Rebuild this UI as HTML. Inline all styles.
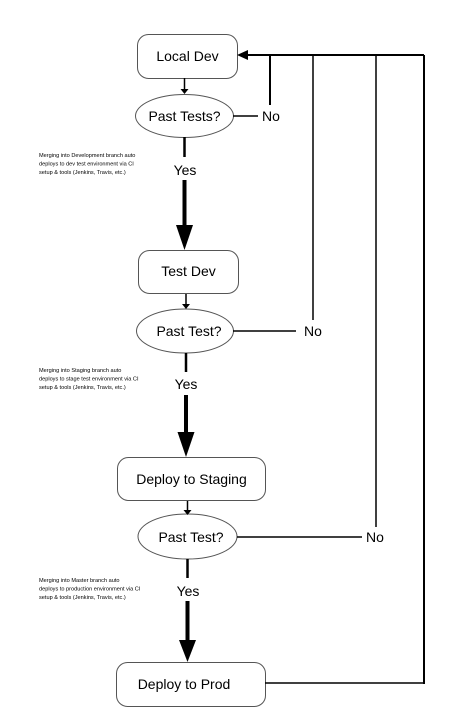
<!DOCTYPE html>
<html><head><meta charset="utf-8"><style>
html,body{margin:0;padding:0;background:#fff;}
svg{display:block;}
text{font-family:"Liberation Sans",Arial,sans-serif;fill:#000;}
.s{font-size:5.6px;}
.m{font-size:14px;}
</style></head><body>
<svg width="471" height="728" viewBox="0 0 471 728" xmlns="http://www.w3.org/2000/svg">
<g fill="#fff" stroke="#555" stroke-width="1">
<rect x="137.5" y="34.5" width="100" height="44" rx="11"/>
<ellipse cx="184.5" cy="116" rx="49" ry="21.5"/>
<rect x="138.5" y="250.5" width="100" height="43" rx="11"/>
<ellipse cx="185" cy="331" rx="48.5" ry="22"/>
<rect x="117.5" y="457.5" width="148" height="43" rx="11"/>
<ellipse cx="187.5" cy="536.5" rx="49.5" ry="22.5"/>
<rect x="116.5" y="662.5" width="149" height="44" rx="11"/>
</g>
<g stroke="#000" fill="none">
<!-- feedback lines -->
<line x1="247" y1="55" x2="424" y2="55" stroke-width="2"/>
<line x1="270" y1="55" x2="270" y2="105" stroke-width="2"/>
<line x1="313" y1="55" x2="313" y2="320" stroke-width="1.5"/>
<line x1="376" y1="55" x2="376" y2="527" stroke-width="1.5"/>
<line x1="424" y1="55" x2="424" y2="684" stroke-width="2"/>
<line x1="265" y1="683" x2="424" y2="683" stroke-width="1.5"/>
<line x1="233" y1="116" x2="258" y2="116" stroke-width="1.5"/>
<line x1="233" y1="331" x2="296" y2="331" stroke-width="1.5"/>
<line x1="237" y1="537" x2="362" y2="537" stroke-width="1.5"/>
<!-- small arrows -->
<line x1="184.5" y1="78" x2="184.5" y2="89" stroke-width="1.5"/>
<line x1="186" y1="294" x2="186" y2="304" stroke-width="1.5"/>
<line x1="187.5" y1="501" x2="187.5" y2="510" stroke-width="1.5"/>
<!-- yes thin -->
<line x1="184.5" y1="137" x2="184.5" y2="157" stroke-width="2.5"/>
<line x1="186" y1="353" x2="186" y2="372" stroke-width="2.5"/>
<line x1="187.5" y1="559" x2="187.5" y2="578" stroke-width="2.5"/>
<!-- yes thick -->
<line x1="184.5" y1="180" x2="184.5" y2="228" stroke-width="4"/>
<line x1="186" y1="395" x2="186" y2="435" stroke-width="4"/>
<line x1="187.5" y1="601" x2="187.5" y2="643" stroke-width="4"/>
</g>
<g fill="#000">
<polygon points="237,55 248,50 248,60"/>
<polygon points="180.5,89 188.5,89 184.5,94"/>
<polygon points="182,304 190,304 186,309"/>
<polygon points="183.5,510 191.5,510 187.5,515"/>
<polygon points="176,225 193,225 184.5,250"/>
<polygon points="177.5,432 194.5,432 186,457"/>
<polygon points="179,640 196,640 187.5,662"/>
</g>
<g class="m">
<text x="187.5" y="61" text-anchor="middle">Local Dev</text>
<text x="184.5" y="121" text-anchor="middle">Past Tests?</text>
<text x="188.5" y="276" text-anchor="middle">Test Dev</text>
<text x="189" y="336" text-anchor="middle">Past Test?</text>
<text x="191.5" y="484" text-anchor="middle">Deploy to Staging</text>
<text x="191" y="542" text-anchor="middle">Past Test?</text>
<text x="184" y="689" text-anchor="middle">Deploy to Prod</text>
<text x="262" y="121">No</text>
<text x="304" y="336">No</text>
<text x="366" y="542">No</text>
<text x="185" y="175" text-anchor="middle">Yes</text>
<text x="186" y="389" text-anchor="middle">Yes</text>
<text x="188" y="596" text-anchor="middle">Yes</text>
</g>
<g class="s">
<text x="39" y="157">Merging into Development branch auto</text>
<text x="39" y="165.5">deploys to dev test environment via CI</text>
<text x="39" y="174">setup &amp; tools (Jenkins, Travis, etc.)</text>
<text x="39" y="372">Merging into Staging branch auto</text>
<text x="39" y="380.5">deploys to stage test environment via CI</text>
<text x="39" y="389">setup &amp; tools (Jenkins, Travis, etc.)</text>
<text x="39" y="582">Merging into Master branch auto</text>
<text x="39" y="590.5">deploys to production environment via CI</text>
<text x="39" y="599">setup &amp; tools (Jenkins, Travis, etc.)</text>
</g>
</svg>
</body></html>
